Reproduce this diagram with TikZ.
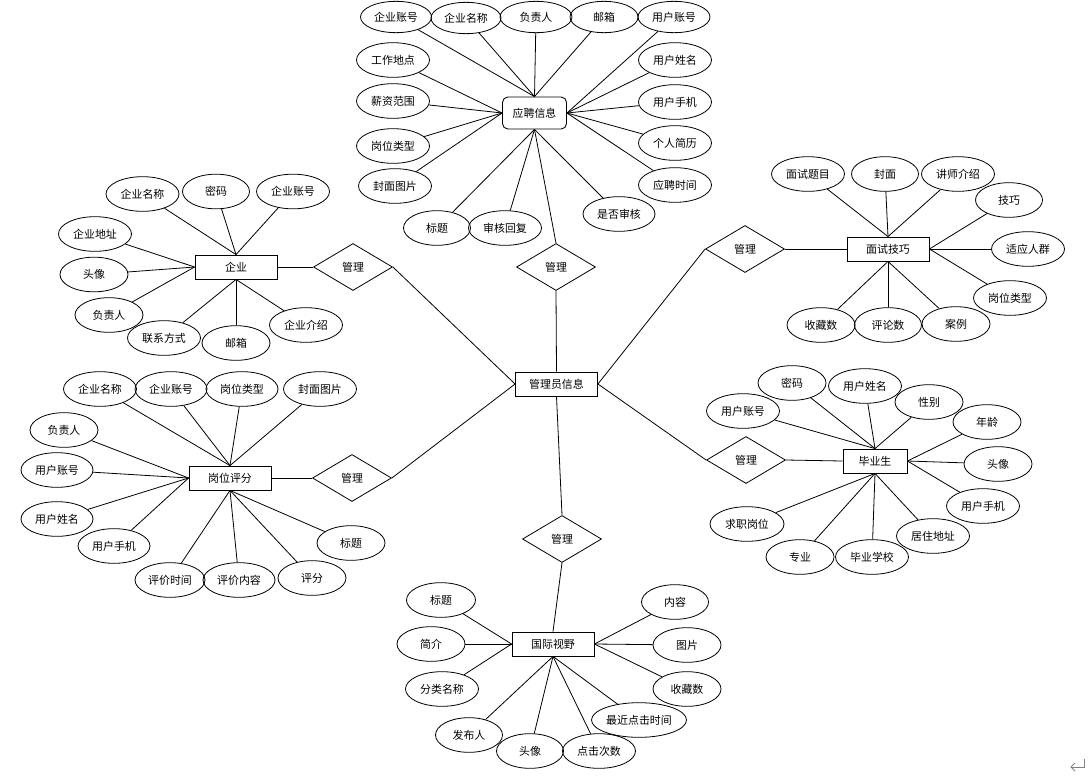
\documentclass[tikz,border=0pt]{standalone}
\usepackage{fontspec}
\setmainfont{Noto Sans CJK SC}
\usetikzlibrary{shapes.geometric}
\tikzset{
  attr/.style={ellipse, draw, line width=0.6pt, inner sep=0pt, minimum height=26pt, minimum width=#1*0.75pt, font=\fontsize{8.2}{10}\selectfont},
  attr/.default=70,
  toprow/.style={minimum height=23.5pt},
  ent/.style={rectangle, draw, line width=0.65pt, inner sep=0pt, minimum width=61.5pt, minimum height=18pt, font=\fontsize{8.2}{10}\selectfont},
  rel/.style={diamond, draw, line width=0.6pt, inner sep=0pt, minimum width=59.25pt, minimum height=35.25pt, font=\fontsize{8.2}{10}\selectfont},
  lnk/.style={line width=0.6pt},
}
\begin{document}
\begin{tikzpicture}[x=0.75pt,y=-0.75pt]
\useasboundingbox (0,0) rectangle (1088,782);
\fill[white] (0,0) rectangle (1088,782);

% ---------- central ----------
\node[ent] (gl) at (556.5,384) {管理员信息};
\node[rel] (r1) at (556,267) {管理};
\node[rel] (r2) at (353,267) {管理};
\node[rel] (r3) at (352,478) {管理};
\node[rel] (r4) at (745,249) {管理};
\node[rel] (r5) at (746,460) {管理};
\node[rel] (r6) at (562,539) {管理};

% ---------- 应聘信息 ----------
\node[ent, rounded corners=4pt, minimum width=48pt, minimum height=24pt] (yp) at (534.5,113) {应聘信息};
\node[attr=71, toprow] (y1) at (396,17) {企业账号};
\node[attr=70, toprow] (y2) at (466,18) {企业名称};
\node[attr=72, toprow] (y3) at (536,17) {负责人};
\node[attr=68, toprow] (y4) at (604,17) {邮箱};
\node[attr=72, toprow] (y5) at (674,17) {用户账号};
\node[attr=73] (y6) at (393,60) {工作地点};
\node[attr=73] (y7) at (393,101) {薪资范围};
\node[attr=73] (y8) at (393,146) {岗位类型};
\node[attr=73] (y9) at (395,186) {封面图片};
\node[attr=67] (y10) at (437,228) {标题};
\node[attr=73] (y11) at (505,228) {审核回复};
\node[attr=72] (y12) at (619,214) {是否审核};
\node[attr=73] (y13) at (675,60) {用户姓名};
\node[attr=73] (y14) at (675,102) {用户手机};
\node[attr=73] (y15) at (675,143) {个人简历};
\node[attr=73] (y16) at (675,185) {应聘时间};
\foreach \n in {y1,y2,y3,y4} \draw[lnk] (\n) -- (yp.north);
\foreach \n in {y6,y7,y8,y9} \draw[lnk] (\n) -- (yp.west);
\foreach \n in {y5,y13,y14,y15,y16} \draw[lnk] (\n) -- (yp.east);
\foreach \n in {y10,y11,y12} \draw[lnk] (\n) -- (yp.south);
\draw[lnk] (yp.south) -- (r1.north);
\draw[lnk] (r1.south) -- (gl.north);

% ---------- 企业 ----------
\node[ent] (qy) at (236,267) {企业};
\node[attr=73] (q1) at (142.5,194) {企业名称};
\node[attr=67] (q2) at (216,191.5) {密码};
\node[attr=73] (q3) at (293,191.5) {企业账号};
\node[attr=73] (q4) at (95,234) {企业地址};
\node[attr=68] (q5) at (94,274.5) {头像};
\node[attr=68] (q6) at (109,315) {负责人};
\node[attr=73] (q7) at (164,338) {联系方式};
\node[attr=68] (q8) at (236,343) {邮箱};
\node[attr=73] (q9) at (306,325) {企业介绍};
\foreach \n in {q1,q2,q3} \draw[lnk] (\n) -- (qy.north);
\foreach \n in {q4,q5,q6} \draw[lnk] (\n) -- (qy.west);
\foreach \n in {q7,q8,q9} \draw[lnk] (\n) -- (qy.south);
\draw[lnk] (qy.east) -- (r2.west);
\draw[lnk] (r2.east) -- (gl.west);

% ---------- 岗位评分 ----------
\node[ent] (gw) at (230,478) {岗位评分};
\node[attr=73] (g1) at (100,389) {企业名称};
\node[attr=72] (g2) at (171,389) {企业账号};
\node[attr=72] (g3) at (242,389) {岗位类型};
\node[attr=73] (g4) at (320,389) {封面图片};
\node[attr=68] (g5) at (64,430) {负责人};
\node[attr=72] (g6) at (57,470) {用户账号};
\node[attr=72] (g7) at (57,519) {用户姓名};
\node[attr=72] (g8) at (114,546) {用户手机};
\node[attr=70] (g9) at (170,580) {评价时间};
\node[attr=72] (g10) at (239,580) {评价内容};
\node[attr=68] (g11) at (312,578) {评分};
\node[attr=68] (g12) at (351,543) {标题};
\foreach \n in {g1,g2,g3,g4} \draw[lnk] (\n) -- (gw.north);
\foreach \n in {g5,g6,g7,g8} \draw[lnk] (\n) -- (gw.west);
\foreach \n in {g9,g10,g11,g12} \draw[lnk] (\n) -- (gw.south);
\draw[lnk] (gw.east) -- (r3.west);
\draw[lnk] (r3.east) -- (gl.west);

% ---------- 面试技巧 ----------
\node[ent] (ms) at (888,249) {面试技巧};
\node[attr=73] (m1) at (808,174) {面试题目};
\node[attr=67] (m2) at (885,174) {封面};
\node[attr=73] (m3) at (958,174) {讲师介绍};
\node[attr=67] (m4) at (1009,200) {技巧};
\node[attr=73] (m5) at (1028,249) {适应人群};
\node[attr=73] (m6) at (1010,298) {岗位类型};
\node[attr=68] (m7) at (821,325) {收藏数};
\node[attr=67] (m8) at (888,325) {评论数};
\node[attr=68] (m9) at (956,324) {案例};
\foreach \n in {m1,m2,m3} \draw[lnk] (\n) -- (ms.north);
\foreach \n in {m4,m5,m6} \draw[lnk] (\n) -- (ms.east);
\foreach \n in {m7,m8,m9} \draw[lnk] (\n) -- (ms.south);
\draw[lnk] (r4.east) -- (ms.west);
\draw[lnk] (gl.east) -- (r4.west);

% ---------- 毕业生 ----------
\node[ent, minimum width=48pt] (by) at (875,461) {毕业生};
\node[attr=73] (b1) at (743,411) {用户账号};
\node[attr=68] (b2) at (792,383) {密码};
\node[attr=73] (b3) at (865,386) {用户姓名};
\node[attr=68] (b4) at (929,402) {性别};
\node[attr=68] (b5) at (987,422) {年龄};
\node[attr=68] (b6) at (998,464) {头像};
\node[attr=73] (b7) at (983,506) {用户手机};
\node[attr=73] (b8) at (933,536) {居住地址};
\node[attr=73] (b9) at (872,557) {毕业学校};
\node[attr=68] (b10) at (800,557) {专业};
\node[attr=74] (b11) at (747,524) {求职岗位};
\foreach \n in {b1,b2,b3,b4} \draw[lnk] (\n) -- (by.north);
\foreach \n in {b5,b6,b7} \draw[lnk] (\n) -- (by.east);
\foreach \n in {b8,b9,b10,b11} \draw[lnk] (\n) -- (by.south);
\draw[lnk] (r5.east) -- (by.west);
\draw[lnk] (gl.east) -- (r5.west);

% ---------- 国际视野 ----------
\node[ent] (gj) at (553,644) {国际视野};
\node[attr=69] (v1) at (441,600) {标题};
\node[attr=68] (v2) at (431,644) {简介};
\node[attr=73] (v3) at (442,689) {分类名称};
\node[attr=67] (v4) at (469,735) {发布人};
\node[attr=67] (v5) at (530,751) {头像};
\node[attr=73] (v6) at (599,751) {点击次数};
\node[attr=95] (v7) at (639,720) {最近点击时间};
\node[attr=67] (v8) at (675,602) {内容};
\node[attr=68] (v9) at (687,645) {图片};
\node[attr=68] (v10) at (687,689) {收藏数};
\foreach \n in {v1,v2,v3} \draw[lnk] (\n) -- (gj.west);
\foreach \n in {v4,v5,v6,v7} \draw[lnk] (\n) -- (gj.south);
\foreach \n in {v8,v9,v10} \draw[lnk] (\n) -- (gj.east);
\draw[lnk] (gl.south) -- (r6.north);
\draw[lnk] (r6.south) -- (gj.north);

% ---------- paragraph mark ----------
\draw[gray, line width=0.6pt] (1084,759) -- (1084,767) -- (1071,767);
\draw[gray, line width=0.6pt] (1075,763) -- (1071,767) -- (1075,771);
\end{tikzpicture}
\end{document}
